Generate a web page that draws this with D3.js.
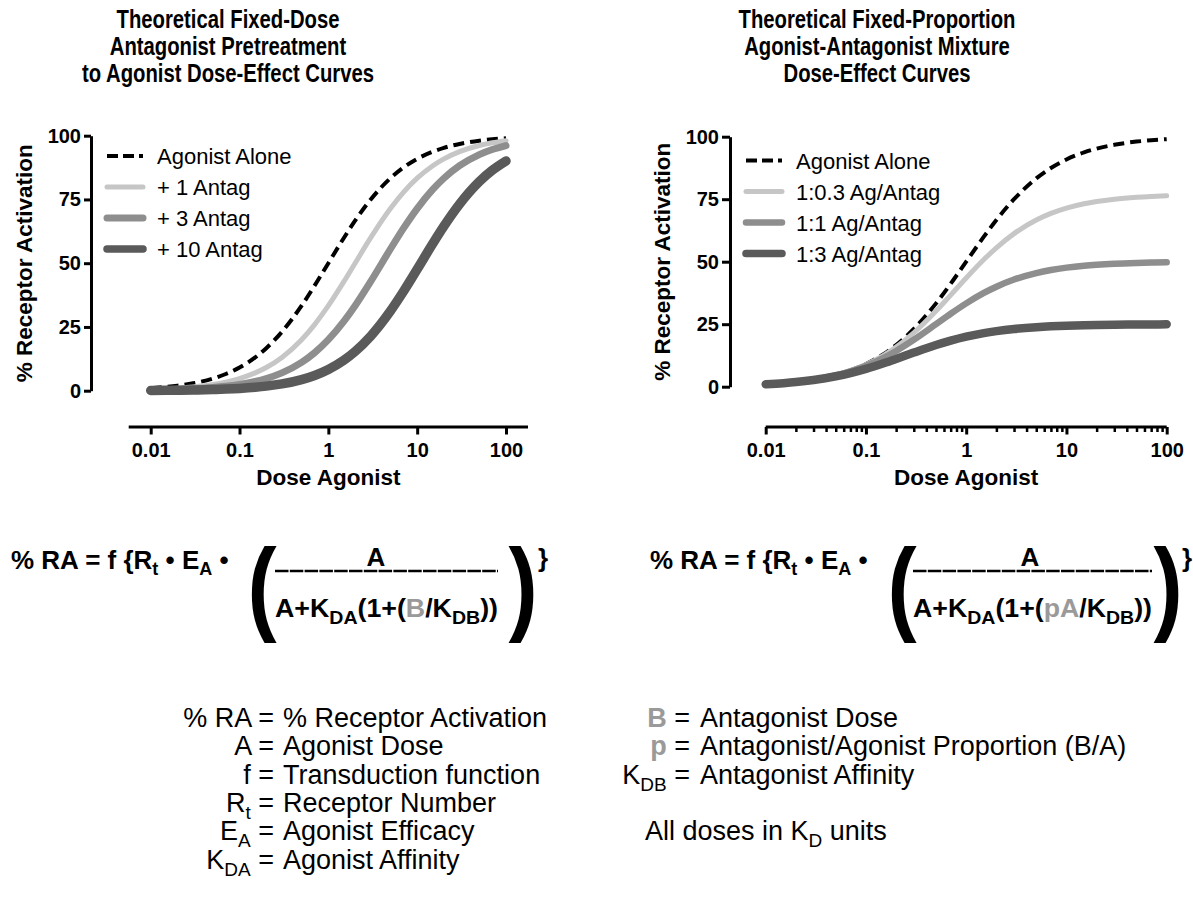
<!DOCTYPE html>
<html><head><meta charset="utf-8">
<script src="https://cdn.jsdelivr.net/npm/d3@7/dist/d3.min.js"></script>
<style>body{margin:0;background:#fff}svg{display:block}</style>
</head><body>
<script>
// ---------------- DATA ----------------
const doses = [0.01,0.015,0.02,0.03,0.05,0.07,0.1,0.15,0.2,0.3,0.5,0.7,1,1.5,2,3,5,7,10,15,20,30,50,70,100];
const agonistAlone = [0.99,1.48,1.96,2.91,4.76,6.54,9.09,13.04,16.67,23.08,33.33,41.18,50,60,66.67,75,83.33,87.5,90.91,93.75,95.24,96.77,98.04,98.59,99.01];
const plus1Antag   = [0.50,0.74,0.99,1.48,2.44,3.38,4.76,6.98,9.09,13.04,20,25.93,33.33,42.86,50,60,71.43,77.78,83.33,88.24,90.91,93.75,96.15,97.22,98.04];
const plus3Antag   = [0.25,0.37,0.50,0.74,1.23,1.72,2.44,3.61,4.76,6.98,11.11,14.89,20,27.27,33.33,42.86,55.56,63.64,71.43,78.95,83.33,88.24,92.59,94.59,96.15];
const plus10Antag  = [0.09,0.14,0.18,0.27,0.45,0.63,0.90,1.35,1.79,2.65,4.35,5.98,8.33,12.0,15.38,21.43,31.25,38.89,47.62,57.69,64.52,73.17,81.97,86.42,90.09];
const mix1to03 = [0.99,1.47,1.95,2.89,4.69,6.42,8.85,12.55,15.87,21.58,30.30,36.65,43.48,50.85,55.56,61.22,66.67,69.31,71.43,73.17,74.07,75.0,75.76,76.09,76.34];
const mix1to1  = [0.98,1.46,1.92,2.83,4.55,6.14,8.33,11.54,14.29,18.75,25,29.17,33.33,37.5,40,42.86,45.45,46.67,47.62,48.39,48.78,49.18,49.50,49.65,49.75];
const mix1to3  = [0.96,1.42,1.85,2.68,4.17,5.47,7.14,9.38,11.11,13.64,16.67,18.42,20,21.43,22.22,23.08,23.81,24.14,24.39,24.59,24.69,24.79,24.88,24.91,24.94];

const leftSeriesNames  = ["Agonist Alone","+ 1 Antag","+ 3 Antag","+ 10 Antag"];
const rightSeriesNames = ["Agonist Alone","1:0.3 Ag/Antag","1:1 Ag/Antag","1:3 Ag/Antag"];
const yTickValues = [0,25,50,75,100];
const xTickValues = [0.01,0.1,1,10,100];
const xTickLabels = ["0.01","0.1","1","10","100"];
const xMinorTicks = [2,3,4,5,6,7,8,9].flatMap(m => [0.01,0.1,1,10].map(d => +(m*d).toPrecision(3)));
const leftTitle  = ["Theoretical Fixed-Dose","Antagonist Pretreatment","to Agonist Dose-Effect Curves"];
const rightTitle = ["Theoretical Fixed-Proportion","Agonist-Antagonist Mixture","Dose-Effect Curves"];
const xAxisTitle = "Dose Agonist";
const yAxisTitle = "% Receptor Activation";

// ---------------- STYLE ----------------
const FONT = "'Liberation Sans', Arial, Helvetica, sans-serif";
const styles = [
  {color:"#000000", width:4, dash:"11,6"},
  {color:"#c6c6c6", width:5, dash:null},
  {color:"#8e8e8e", width:7, dash:null},
  {color:"#5a5a5a", width:9.5, dash:null}
];
const stylesR = [
  {color:"#000000", width:4, dash:"11,6"},
  {color:"#c6c6c6", width:5, dash:null},
  {color:"#8e8e8e", width:6.5, dash:null},
  {color:"#5a5a5a", width:8.5, dash:null}
];
const GRAY = "#9a9a9a";

const svg = d3.select("body").append("svg").attr("width",1193).attr("height",901)
  .style("font-family",FONT);

function panel(cfg){
  const g = svg.append("g");
  const x = d3.scaleLog().domain([0.01,100]).range(cfg.xr);
  const y = d3.scaleLinear().domain([0,100]).range(cfg.yr);

  // y axis
  const ya = g.append("g").attr("transform",`translate(${cfg.yAxisX},0)`)
    .call(d3.axisLeft(y).tickValues(yTickValues).tickSize(cfg.yTick).tickSizeOuter(0).tickPadding(3));
  ya.select(".domain").attr("stroke-width",3).attr("stroke","#000");
  ya.selectAll(".tick line").attr("stroke-width",3);
  ya.selectAll(".tick text").attr("font-size",20).attr("font-weight","bold").attr("fill","#000")
    .attr("font-family",FONT);

  // x axis
  const xa = g.append("g").attr("transform",`translate(0,${cfg.xAxisY})`);
  xa.call(d3.axisBottom(x).tickValues(xTickValues).tickFormat((d,i)=>xTickLabels[i])
      .tickSize(7.5).tickSizeOuter(0).tickPadding(8));
  xa.select(".domain").remove();
  xa.append("line").attr("x1",x(0.01)-cfg.xExt).attr("x2",x(100)+cfg.xExt)
    .attr("stroke","#000").attr("stroke-width",3);
  xa.selectAll(".tick line").attr("stroke-width",3);
  xa.selectAll(".tick text").attr("font-size",20).attr("font-weight","bold").attr("fill","#000")
    .attr("font-family",FONT);
  if(cfg.minor){
    const mi = g.append("g").attr("transform",`translate(0,${cfg.xAxisY})`)
      .call(d3.axisBottom(x).tickValues(xMinorTicks).tickFormat("").tickSize(5).tickSizeOuter(0));
    mi.select(".domain").remove();
    mi.selectAll(".tick line").attr("stroke-width",2.5);
  }

  // axis titles
  g.append("text").attr("x",(x(0.01)+x(100))/2).attr("y",cfg.xAxisY+58)
    .attr("text-anchor","middle").attr("font-size",22.5).attr("font-weight","bold").text(xAxisTitle);
  g.append("text").attr("transform",`translate(${cfg.yTitleX},${(cfg.yr[0]+cfg.yr[1])/2}) rotate(-90)`)
    .attr("text-anchor","middle").attr("font-size",22.5).attr("font-weight","bold").text(yAxisTitle);

  // curves
  const line = d3.line().x((d,i)=>x(doses[i])).y(d=>y(d)).curve(d3.curveMonotoneX);
  cfg.series.forEach((s,i)=>{
    const st = cfg.styles[i];
    g.append("path").attr("d",line(s)).attr("fill","none").attr("stroke",st.color)
      .attr("stroke-width",st.width).attr("stroke-dasharray",st.dash)
      .attr("stroke-linecap",st.dash?"butt":"round").attr("stroke-linejoin","round");
  });

  // legend
  cfg.names.forEach((n,i)=>{
    const st = cfg.styles[i];
    const ly = cfg.legY + i*31;
    g.append("line").attr("x1",cfg.legX).attr("x2",cfg.legX+36).attr("y1",ly).attr("y2",ly)
      .attr("stroke",st.color).attr("stroke-width",st.dash?4:Math.min(st.width,7.5))
      .attr("stroke-dasharray",st.dash?"11,5":null).attr("stroke-linecap",st.dash?"butt":"round");
    g.append("text").attr("x",cfg.legX+50).attr("y",ly+8).attr("font-size",22).text(n);
  });

  // title
  const t = g.append("text").attr("transform",`translate(${cfg.titleX},0) scale(0.78,1)`)
    .attr("text-anchor","middle").attr("font-size",26).attr("font-weight","bold");
  cfg.title.forEach((l,i)=> t.append("tspan").attr("x",0).attr("y",28+27*i).text(l));
}

panel({xr:[150.7,506],yr:[390.7,135.7],yAxisX:91,yTick:7,xAxisY:427,xExt:22,minor:false,
  yTitleX:32,series:[agonistAlone,plus1Antag,plus3Antag,plus10Antag],styles:styles,
  names:leftSeriesNames,legX:107,legY:156,title:leftTitle,titleX:228});
panel({xr:[765.7,1166.7],yr:[386.7,136.7],yAxisX:730,yTick:8,xAxisY:427,xExt:0,minor:true,
  yTitleX:670,series:[agonistAlone,mix1to03,mix1to1,mix1to3],styles:stylesR,
  names:rightSeriesNames,legX:746,legY:160.5,title:rightTitle,titleX:877});

// ---------------- FORMULAS ----------------
function formula(x0, parenL, fracL, fracR, numX, parenR, braceX, grayPart){
  const f = svg.append("g").attr("font-weight","bold").attr("fill","#000");
  const t = f.append("text").attr("x",x0).attr("y",569).attr("font-size",26);
  t.append("tspan").text("% RA = f {R");
  t.append("tspan").attr("dy",6).attr("font-size",18).text("t");
  t.append("tspan").attr("dy",-6).text(" \u2022 E");
  t.append("tspan").attr("dy",6).attr("font-size",18).text("A");
  t.append("tspan").attr("dy",-6).text(" \u2022");
  // big parentheses
  f.append("text").attr("transform",`translate(${parenL},621) scale(0.85,1)`).attr("font-size",103)
    .attr("text-anchor","middle").text("(");
  f.append("text").attr("transform",`translate(${parenR},621) scale(0.85,1)`).attr("font-size",103)
    .attr("text-anchor","middle").text(")");
  f.append("text").attr("x",braceX).attr("y",567).attr("font-size",26).text("}");
  // numerator and fraction bar
  f.append("line").attr("x1",fracL).attr("x2",fracR).attr("y1",571).attr("y2",571)
    .attr("stroke","#000").attr("stroke-width",2.6).attr("stroke-dasharray","13.5,1.3");
  f.append("text").attr("x",numX).attr("y",566).attr("font-size",26).attr("text-anchor","middle").text("A");
  // denominator
  const d = f.append("text").attr("x",fracL).attr("y",617).attr("font-size",26)
    .attr("textLength",fracR-fracL).attr("lengthAdjust","spacingAndGlyphs");
  d.append("tspan").text("A+K");
  d.append("tspan").attr("dy",7).attr("font-size",19).text("DA");
  d.append("tspan").attr("dy",-7).text("(1+(");
  d.append("tspan").attr("fill",GRAY).text(grayPart);
  d.append("tspan").text("/K");
  d.append("tspan").attr("dy",7).attr("font-size",19).text("DB");
  d.append("tspan").attr("dy",-7).text("))");
}
formula(11, 262, 275, 498, 376, 523, 538, "B");
formula(650, 902, 913, 1152, 1030, 1168, 1182, "pA");

// ---------------- DEFINITIONS ----------------
const defsLeft = [
  {lab:"% RA", sub:null, text:"% Receptor Activation"},
  {lab:"A", sub:null, text:"Agonist Dose"},
  {lab:"f", sub:null, text:"Transduction function"},
  {lab:"R", sub:"t", text:"Receptor Number"},
  {lab:"E", sub:"A", text:"Agonist Efficacy"},
  {lab:"K", sub:"DA", text:"Agonist Affinity"}
];
const defsRight = [
  {lab:"B", sub:null, text:"Antagonist Dose", gray:true, row:0},
  {lab:"p", sub:null, text:"Antagonist/Agonist Proportion (B/A)", gray:true, row:1},
  {lab:"K", sub:"DB", text:"Antagonist Affinity", gray:false, row:2}
];
const DEF_Y0 = 727, DEF_DY = 28.3, DEF_FS = 27;
const defs = svg.append("g").attr("font-size",DEF_FS).attr("fill","#000");
function defLabel(x, y, d){
  const t = defs.append("text").attr("x",x).attr("y",y).attr("text-anchor","end");
  const a = t.append("tspan").text(d.lab);
  if(d.gray){ a.attr("fill",GRAY).attr("font-weight","bold"); }
  if(d.sub){
    t.append("tspan").attr("dy",7).attr("font-size",19).text(d.sub);
    t.append("tspan").attr("dy",-7).text(" =");
  } else {
    t.append("tspan").text(" =");
  }
}
defsLeft.forEach((d,i)=>{
  const y = DEF_Y0 + DEF_DY*i;
  defLabel(274, y, d);
  defs.append("text").attr("x",283).attr("y",y).text(d.text);
});
defsRight.forEach(d=>{
  const y = DEF_Y0 + DEF_DY*d.row;
  defLabel(690, y, d);
  defs.append("text").attr("x",700).attr("y",y).text(d.text);
});
const allT = defs.append("text").attr("x",645).attr("y",DEF_Y0+DEF_DY*4);
allT.append("tspan").text("All doses in K");
allT.append("tspan").attr("dy",7).attr("font-size",19).text("D");
allT.append("tspan").attr("dy",-7).text(" units");
</script>
</body></html>
